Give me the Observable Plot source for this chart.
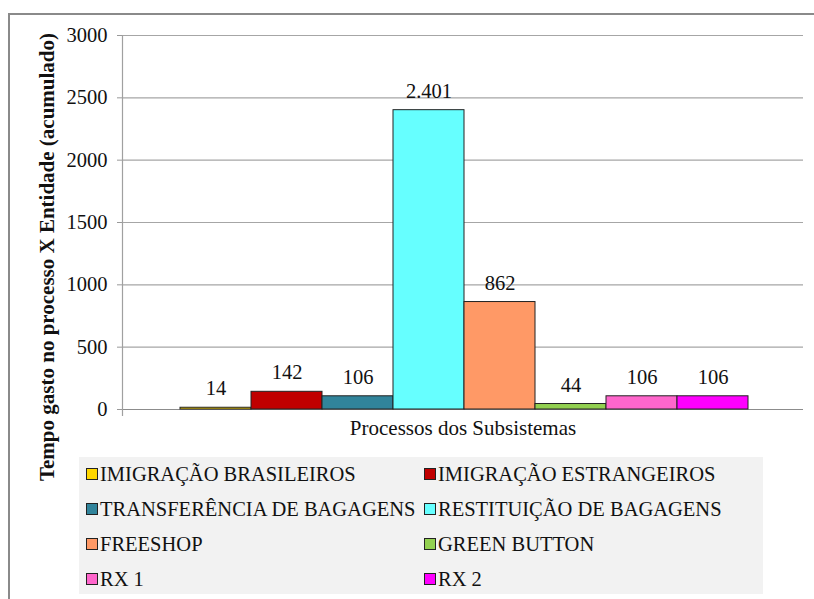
<!DOCTYPE html>
<html>
<head>
<meta charset="utf-8">
<script src="https://cdn.jsdelivr.net/npm/d3@7"></script>
<script src="https://cdn.jsdelivr.net/npm/@observablehq/plot@0.6"></script>
<style>
  html, body { margin: 0; padding: 0; background: #fff; }
  #chart, #chart * {
    font-family: "Liberation Serif", "DejaVu Serif", serif;
  }
  #chart {
    position: relative; width: 814px; height: 599px; overflow: hidden; color: #111;
  }
  #border {
    position: absolute; left: 8px; top: 13px; width: 900px; height: 700px;
    border: 2px solid #8a8a8a; box-sizing: border-box;
  }
  #plot { position: absolute; left: 0; top: 0; }
  #ylabel {
    position: absolute; left: 47px; top: 257px; white-space: nowrap;
    font-weight: bold; font-size: 21px;
    transform: translate(-50%, -50%) rotate(-90deg);
  }
  #legend {
    position: absolute; left: 79px; top: 457px; width: 684px; height: 137px;
    background: #f2f2f2;
  }
  .item {
    position: absolute; display: flex; align-items: center;
    font-size: 20.5px; white-space: nowrap; height: 24px;
  }
  .sw {
    width: 10px; height: 10px; border: 1px solid #222; margin-right: 2px;
  }
</style>
</head>
<body>
<div id="chart">
  <div id="border"></div>
  <div id="plot"></div>
  <div id="ylabel">Tempo gasto no processo X Entidade (acumulado)</div>
  <div id="legend"></div>
</div>
<script>
// Subsystem processes and accumulated time per entity
const processos = [
  "IMIGRAÇÃO BRASILEIROS",
  "IMIGRAÇÃO ESTRANGEIROS",
  "TRANSFERÊNCIA DE BAGAGENS",
  "RESTITUIÇÃO DE BAGAGENS",
  "FREESHOP",
  "GREEN BUTTON",
  "RX 1",
  "RX 2"
];
const tempos = [14, 142, 106, 2401, 862, 44, 106, 106];
const cores = ["#ffd700", "#c00000", "#31849b", "#66ffff", "#ff9966", "#92d050", "#ff66cc", "#ff00ff"];
const yTicks = [0, 500, 1000, 1500, 2000, 2500, 3000];
const xTitulo = "Processos dos Subsistemas";

const dados = processos.map((p, i) => ({processo: p, tempo: tempos[i]}));

// Brazilian number format: "2.401"
const br = d3.formatLocale({decimal: ",", thousands: ".", grouping: [3], currency: ["R$", ""]});
const fmt = br.format(",d");

const serif = "Liberation Serif, DejaVu Serif, serif";

const chart = Plot.plot({
  width: 814,
  height: 450,
  marginLeft: 122,
  marginRight: 11,
  marginTop: 35,
  marginBottom: 41,
  style: {fontFamily: serif, fontSize: "20.5px", color: "#111", background: "transparent"},
  x: {domain: processos, padding: 0, insetLeft: 56, insetRight: 53, axis: null},
  y: {domain: [0, 3000], axis: null},
  color: {domain: processos, range: cores},
  marks: [
    Plot.ruleY(yTicks.filter(t => t > 0), {stroke: "#a6a6a6", strokeWidth: 1.2}),
    Plot.ruleY([0], {stroke: "#8c8c8c", strokeWidth: 1.2}),
    Plot.frame({anchor: "left", stroke: "#a0a0a0", strokeWidth: 1.2, insetBottom: -6}),
    Plot.axisY({ticks: yTicks, tickFormat: d => String(d), tickSize: 5, tickPadding: 10,
      fontSize: 20.5, fontFamily: serif, stroke: "#999", fill: "#111", label: null}),
    Plot.barY(dados, {x: "processo", y: "tempo", fill: "processo", stroke: "#222", strokeWidth: 1}),
    Plot.text(dados, {x: "processo", y: "tempo", text: d => fmt(d.tempo), dy: -19,
      fontSize: 20.5, fontFamily: serif, fill: "#111"}),
    Plot.text([xTitulo], {frameAnchor: "bottom", text: d => d, dy: 25,
      fontSize: 21, fontFamily: serif, fill: "#111"})
  ]
});
document.getElementById("plot").appendChild(chart);

// Legend: two columns, four rows
const legend = document.getElementById("legend");
const colX = [7, 345];
const rowY = [5, 40, 75, 110];
processos.forEach((p, i) => {
  const item = document.createElement("div");
  item.className = "item";
  item.style.left = colX[i % 2] + "px";
  item.style.top = rowY[Math.floor(i / 2)] + "px";
  const sw = document.createElement("span");
  sw.className = "sw";
  sw.style.background = cores[i];
  const t = document.createElement("span");
  t.textContent = p;
  item.appendChild(sw);
  item.appendChild(t);
  legend.appendChild(item);
});
</script>
</body>
</html>
